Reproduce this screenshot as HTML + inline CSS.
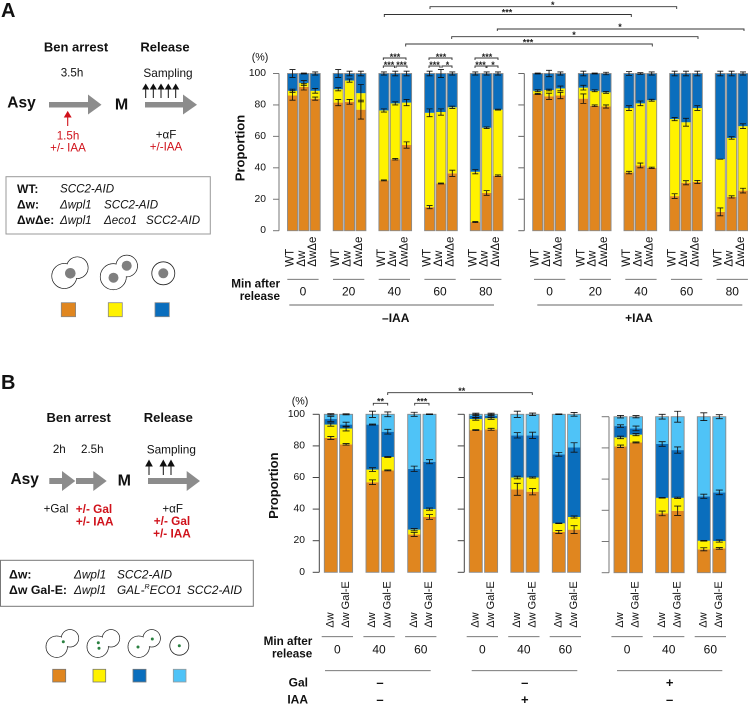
<!DOCTYPE html>
<html lang="en">
<head>
<meta charset="utf-8">
<title>Sister chromatid cohesion proportions</title>
<style>
html,body{margin:0;padding:0;background:#fff;}
svg{display:block;font-family:"Liberation Sans",Arial,sans-serif;}
text{dominant-baseline:central;fill:#111;}
.b{font-weight:bold;}
.i{font-style:italic;}
.m{text-anchor:middle;}
.e{text-anchor:end;}
.r{fill:#d0121b;}
.star{font-size:9px;text-anchor:middle;font-weight:bold;fill:#222;}
.brk{fill:none;stroke:#333;stroke-width:.9;}
.cell{fill:none;stroke:#222;stroke-width:.8;}
.wh{fill:#fff;}
.ln{stroke:#666;stroke-width:.9;}
</style>
</head>
<body>
<svg id="fig" width="748" height="704" viewBox="0 0 748 704" xmlns="http://www.w3.org/2000/svg">

<!-- PANEL A schematic -->
<g>
<text x="1" y="11" class="b" font-size="20">A</text>
<text x="76" y="47" class="b m" font-size="13">Ben arrest</text>
<text x="165" y="47" class="b m" font-size="13">Release</text>
<text x="72" y="73" class="m" font-size="11.6">3.5h</text>
<text x="168" y="73" class="m" font-size="11.8">Sampling</text>
<text x="21.5" y="103" class="b m" font-size="15.5">Asy</text>
<text x="121.5" y="105" class="b m" font-size="16">M</text>
<path d="M49 102H88V94.5L101.5 104.7L88 114.5V107.5H49Z" fill="#8c8c8c"/>
<path d="M145 102H183V94.5L197 104.7L183 114.5V107.5H145Z" fill="#8c8c8c"/>
<g fill="#111" stroke="#111" stroke-width="1">
<path d="M145.7 98V87"/><path d="M143 89L145.7 84.5L148.4 89Z"/>
<path d="M153.3 98V87"/><path d="M150.6 89L153.3 84.5L156 89Z"/>
<path d="M161 98V87"/><path d="M158.3 89L161 84.5L163.7 89Z"/>
<path d="M168.3 98V87"/><path d="M165.6 89L168.3 84.5L171 89Z"/>
<path d="M175.7 98V87"/><path d="M173 89L175.7 84.5L178.4 89Z"/>
</g>
<g fill="#d0121b" stroke="#d0121b" stroke-width="1.1">
<path d="M67.7 126V115"/><path d="M64.7 117L67.7 112L70.7 117Z"/>
</g>
<text x="68" y="136" class="m r" font-size="11.6">1.5h</text>
<text x="68" y="148" class="m r" font-size="11.6">+/- IAA</text>
<text x="166" y="135" class="m" font-size="11.6">+αF</text>
<text x="166" y="147" class="m r" font-size="11.6">+/-IAA</text>
<rect x="6" y="176.7" width="204.3" height="57.3" fill="#fff" stroke="#999" stroke-width="1"/>
<g font-size="11.6">
<text x="17" y="189" class="b" font-size="12">WT:</text>
<text x="60" y="189" class="i">SCC2-AID</text>
<text x="17" y="204.5" class="b" font-size="12">Δw:</text>
<text y="204.5" class="i"><tspan x="60">Δwpl1</tspan><tspan x="104">SCC2-AID</tspan></text>
<text x="17" y="220" class="b" font-size="12">ΔwΔe:</text>
<text y="220" class="i"><tspan x="60">Δwpl1</tspan><tspan x="104">Δeco1</tspan><tspan x="146">SCC2-AID</tspan></text>
</g>
<g>
<circle class="cell" cx="64.3" cy="276" r="12.5"/><circle class="cell" cx="77.3" cy="267.7" r="10.8"/>
<circle class="wh" cx="64.3" cy="276" r="12.1"/><circle class="wh" cx="77.3" cy="267.7" r="10.4"/>
<circle cx="70.3" cy="273.3" r="5.3" fill="#7f7f7f"/>
</g>
<g>
<circle class="cell" cx="113.3" cy="276.7" r="13"/><circle class="cell" cx="126.7" cy="266" r="10.8"/>
<circle class="wh" cx="113.3" cy="276.7" r="12.6"/><circle class="wh" cx="126.7" cy="266" r="10.4"/>
<circle cx="113.5" cy="277.7" r="5" fill="#7f7f7f"/><circle cx="126.7" cy="265.7" r="5" fill="#7f7f7f"/>
</g>
<g>
<circle class="cell" cx="163.3" cy="273.3" r="11.5"/>
<circle cx="163.3" cy="273.3" r="5" fill="#7f7f7f"/>
</g>
<rect x="61.3" y="302.7" width="14.3" height="14" fill="#e0861f" stroke="#888" stroke-width=".8"/>
<rect x="108.3" y="302.7" width="14" height="14" fill="#fff200" stroke="#888" stroke-width=".8"/>
<rect x="155" y="302.7" width="14.3" height="14" fill="#0a6ebd" stroke="#888" stroke-width=".8"/>
</g>

<!-- PANEL B schematic -->
<g>
<text x="1" y="383" class="b" font-size="20">B</text>
<text x="78.7" y="417.3" class="b m" font-size="13">Ben arrest</text>
<text x="168.3" y="417.3" class="b m" font-size="13">Release</text>
<text x="59.3" y="449.3" class="m" font-size="11.6">2h</text>
<text x="92.3" y="449.3" class="m" font-size="11.6">2.5h</text>
<text x="171.3" y="449.3" class="m" font-size="11.8">Sampling</text>
<text x="24.7" y="479.3" class="b m" font-size="15.5">Asy</text>
<text x="124.3" y="481" class="b m" font-size="16">M</text>
<path d="M49.3 478H62V471L75.3 481L62 491V484H49.3Z" fill="#8c8c8c"/>
<path d="M76 478H93.3V471L106.7 481L93.3 491V484H76Z" fill="#8c8c8c"/>
<path d="M148 478H186.7V471L200 481L186.7 491V484H148Z" fill="#8c8c8c"/>
<g fill="#111" stroke="#111" stroke-width="1">
<path d="M149 475V464"/><path d="M146 466L149 460.5L152 466Z"/>
<path d="M163.3 475V464"/><path d="M160.3 466L163.3 460.5L166.3 466Z"/>
<path d="M171 475V464"/><path d="M168 466L171 460.5L174 466Z"/>
</g>
<text x="56" y="509" class="m" font-size="11.6">+Gal</text>
<text x="94" y="509" class="m r b" font-size="11.8">+/- Gal</text>
<text x="94.7" y="521.3" class="m r b" font-size="11.8">+/- IAA</text>
<text x="172.7" y="509" class="m" font-size="11.6">+αF</text>
<text x="172" y="521" class="m r b" font-size="11.8">+/- Gal</text>
<text x="172" y="533.3" class="m r b" font-size="11.8">+/- IAA</text>
<rect x=".5" y="560.3" width="252.8" height="46" fill="#fff" stroke="#777" stroke-width="1"/>
<g font-size="11.8">
<text x="9" y="574.7" class="b" font-size="12.3">Δw:</text>
<text y="574.7" class="i"><tspan x="74">Δwpl1</tspan><tspan x="117">SCC2-AID</tspan></text>
<text x="9" y="590" class="b" font-size="12.3">Δw Gal-E:</text>
<text y="590" class="i"><tspan x="74">Δwpl1</tspan><tspan x="117">GAL-</tspan><tspan font-size="7" dy="-3">R</tspan><tspan dy="3">ECO1</tspan><tspan x="187">SCC2-AID</tspan></text>
</g>
<g>
<circle class="cell" cx="56.7" cy="646.7" r="10.7"/><circle class="cell" cx="70" cy="638.3" r="8.7"/>
<circle class="wh" cx="56.7" cy="646.7" r="10.3"/><circle class="wh" cx="70" cy="638.3" r="8.3"/>
<circle cx="63.3" cy="641.7" r="1.5" fill="#2a8040"/>
</g>
<g>
<circle class="cell" cx="97.7" cy="646.7" r="10.7"/><circle class="cell" cx="111" cy="638.3" r="8.7"/>
<circle class="wh" cx="97.7" cy="646.7" r="10.3"/><circle class="wh" cx="111" cy="638.3" r="8.3"/>
<circle cx="98.3" cy="642.7" r="1.5" fill="#2a8040"/><circle cx="99" cy="648.3" r="1.5" fill="#2a8040"/>
</g>
<g>
<circle class="cell" cx="138.7" cy="646.7" r="10.7"/><circle class="cell" cx="151.7" cy="638.3" r="8.7"/>
<circle class="wh" cx="138.7" cy="646.7" r="10.3"/><circle class="wh" cx="151.7" cy="638.3" r="8.3"/>
<circle cx="138" cy="647" r="1.5" fill="#2a8040"/><circle cx="152.3" cy="639" r="1.5" fill="#2a8040"/>
</g>
<g>
<circle class="cell" cx="179.3" cy="645.7" r="9.5"/>
<circle cx="179.3" cy="645.7" r="1.5" fill="#2a8040"/>
</g>
<rect x="52.7" y="669.3" width="13" height="12.7" fill="#e0861f" stroke="#777" stroke-width=".8"/>
<rect x="93" y="669.3" width="12.7" height="12.7" fill="#fff200" stroke="#777" stroke-width=".8"/>
<rect x="133" y="669.3" width="13" height="12.7" fill="#0a6ebd" stroke="#777" stroke-width=".8"/>
<rect x="173.3" y="669.3" width="12.7" height="12.7" fill="#4fc3f7" stroke="#999" stroke-width=".8"/>
</g>

<!-- significance brackets A -->
<g>
<path class="brk" d="M430 9V6.7H676.7V9"/>
<text class="star" x="552.7" y="5">*</text>
<path class="brk" d="M384.3 17V14.5H631.3V17"/>
<text class="star" x="507" y="12.5">***</text>
<path class="brk" d="M497.3 31V29H744V31"/>
<text class="star" x="620" y="27">*</text>
<path class="brk" d="M451.7 39V36.7H698V39"/>
<text class="star" x="574" y="35">*</text>
<path class="brk" d="M405.7 46.5V44H652.3V46.5"/>
<text class="star" x="528" y="42.5">***</text>

<path class="brk" d="M383.3 60V58H406V60"/>
<text class="star" x="395" y="57">***</text>
<path class="brk" d="M383.3 68V66H394.5V68"/>
<text class="star" x="389" y="65">***</text>
<path class="brk" d="M396 68V66H407V68"/>
<text class="star" x="401.5" y="65">***</text>

<path class="brk" d="M429 60V58H452V60"/>
<text class="star" x="441" y="57">***</text>
<path class="brk" d="M429 68V66H440V68"/>
<text class="star" x="434.5" y="65">***</text>
<path class="brk" d="M442 68V66H452V68"/>
<text class="star" x="447.5" y="65">*</text>

<path class="brk" d="M475 60V58H498V60"/>
<text class="star" x="487" y="57">***</text>
<path class="brk" d="M475 68V66H486V68"/>
<text class="star" x="480.5" y="65">***</text>
<path class="brk" d="M487 68V66H498V68"/>
<text class="star" x="493" y="65">*</text>
</g>

<!-- significance brackets B -->
<g>
<path class="brk" d="M387.7 395V392.7H532.3V395"/>
<text class="star" x="461.7" y="391">**</text>
<path class="brk" d="M373.3 405.5V403.3H387.7V405.5"/>
<text class="star" x="380.5" y="401.7">**</text>
<path class="brk" d="M414.7 405.5V403.3H429V405.5"/>
<text class="star" x="422" y="401.7">***</text>
</g>

<g id="charts"></g>
</svg>

<script>
// ---- chart A data: cumulative tops of each stacked segment (%), three strains × five time points
const strainsA = ["WT", "Δw", "ΔwΔe"];
const timesA = ["0", "20", "40", "60", "80"];
const yTicks = ["0", "20", "40", "60", "80", "100"];

const aMinusOrange = [86,91.5,84, 81.5,82,77, 32,45.5,54.5, 15,30,36.5, 5.5,24,35];
const aMinusYellow = [89,94,89, 90,95.5,87.5, 76.5,81,81.5, 75,75.5,78.5, 37.5,65.5,77];
const aMinusOrangeErr = [3,2,1, 2,1.5,6, .3,.5,2, 1,.3,2, .3,1.5,.5];
const aMinusYellowErr = [1,1.5,1.5, 1,1,5.5, 1,1,2, 2.5,2,.7, 1.3,.5,.3];
const aMinusTopErr = [2.5,.3,1, 2.5,1.5,1.5, 1,1.5,1.5, 1.5,2.5,1, 1,1,1];

const aPlusOrange = [87,85.5,86, 84,79.5,79, 37,41.5,40, 22,30.5,31, 12,21.5,25.5];
const aPlusYellow = [89,89.5,90.5, 91,89,88, 78,81,83, 71,69,78, 45.5,59,66.5];
const aPlusOrangeErr = [.3,2,2, 3,.5,1, .8,1.5,.4, 1.5,1.3,1, 2.5,.7,1.5];
const aPlusYellowErr = [.6,.5,1.5, 1.5,.6,.6, 1.5,1.5,.6, 1,2.5,1.5, 0,.8,1.5];
const aPlusTopErr = [.3,2,1, 1.5,.3,.8, 1.2,.5,1, 1.5,1.5,1.5, 1.5,1.5,1];

// ---- chart B data: two strains × three time points, three panels
const strainsB = ["Δw", "Δw Gal-E"];
const timesB = ["0", "40", "60"];
const galValues = ["–", "–", "+"];
const iaaValues = ["–", "+", "–"];

const b1Orange = [85,81, 57,64.5, 24,35];
const b1Yellow = [93.5,91, 65,73, 27,40];
const b1Blue = [97,93.5, 93.5,89, 65.5,70];
const b1OrangeErr = [1,.5, 1.5,.3, 1.3,1.5];
const b1YellowErr = [1,1.5, 1.2,.3, .7,.7];
const b1BlueErr = [1.7,1.5, .3,1.5, 1.7,1.3];
const b1TopErr = [.4,.3, 2,1.5, 1.3,.2];

const b2Orange = [90,90.5, 52.5,51, 25.5,27];
const b2Yellow = [97,97.5, 60,60, 31,35];
const b2Blue = [99,99, 86.7,86.7, 74.7,79];
const b2OrangeErr = [.3,.6, 3.8,2, 1,2.5];
const b2YellowErr = [.7,.7, .8,.4, .2,.7];
const b2BlueErr = [1,1, 1.7,2, 1.2,3];
const b2TopErr = [.7,.7, 2,.8, .2,1.2];

const b3Orange = [81,83.5, 38,39.7, 15,15.6];
const b3Yellow = [86.7,88.5, 48,48, 20.5,20.3];
const b3Blue = [94,92.5, 82.5,78.6, 49,51.5];
const b3OrangeErr = [.8,.3, 1.5,3, 1,.5];
const b3YellowErr = [.8,.7, .2,.4, .2,.7];
const b3BlueErr = [.8,1.5, 1.5,2, 1.3,1.5];
const b3TopErr = [.8,.7, 1.5,3.5, 2.5,1.3];

// ---- drawing
const NS = "http://www.w3.org/2000/svg";
const root = document.getElementById("charts");
const ORANGE = "#e0861f", YELLOW = "#fff200", BLUE = "#0a6ebd", SKY = "#4fc3f7";

function mk(tag, attrs, parent) {
  const el = document.createElementNS(NS, tag);
  for (const k in attrs) el.setAttribute(k, attrs[k]);
  parent.appendChild(el);
  return el;
}

function drawAxis(name, axisX, yScale, showLabels, labelRight, tickLeft, color) {
  const g = mk("g", {}, root);
  
  
  const line = mk("line", {x1: axisX, x2: axisX, y1: yScale(100), y2: yScale(0), stroke: color, "stroke-width": 1}, g);
  
  
  yTicks.forEach(function (t) {
    const y = yScale(+t);
    const tick = mk("line", {x1: tickLeft, x2: axisX, y1: y, y2: y, stroke: color, "stroke-width": 1}, g);
    
    
    if (showLabels) {
      const lab = mk("text", {x: labelRight, y: y, class: "e", "font-size": 10.3}, g);
      lab.textContent = t;
      
      
    }
  });
}

function drawPanel(name, xBar, yScale, barW, capHalf, segments, topErr, nGroups, nBars, barColorTop) {
  const g = mk("g", {}, root);
  
  
  const n = nGroups * nBars;
  const errLayer = [];
  for (let idx = 0; idx < n; idx++) {
    const gi = Math.floor(idx / nBars), bi = idx % nBars;
    const x = xBar(gi, bi);
    let prev = 0;
    const bg = mk("g", {}, g);
    
    
    segments.forEach(function (s) {
      const top = s.values[idx];
      const seg = mk("rect", {x: x, y: yScale(top), width: barW, height: yScale(prev) - yScale(top), fill: s.color}, bg);
      
      
      errLayer.push([x + barW / 2, top, s.err[idx]]);
      prev = top;
    });
    const last = mk("rect", {x: x, y: yScale(100), width: barW, height: yScale(prev) - yScale(100), fill: barColorTop}, bg);
    
    
    errLayer.push([x + barW / 2, 100, topErr[idx]]);
    const frame = mk("rect", {x: x, y: yScale(100), width: barW, height: yScale(0) - yScale(100), fill: "none", stroke: "#8a8a8a", "stroke-width": 0.9}, bg);
    
    
  }
  errLayer.forEach(function (e) {
    const y1 = yScale(e[1] + e[2]), y2 = yScale(e[1] - e[2]);
    const p = mk("path", {d: "M" + (e[0] - capHalf) + " " + y1 + "H" + (e[0] + capHalf) + "M" + e[0] + " " + y1 + "V" + y2 + "M" + (e[0] - capHalf) + " " + y2 + "H" + (e[0] + capHalf), stroke: "#111", "stroke-width": 0.85, fill: "none"}, g);
    
    
  });
}

function rotLabel(parent, txt, x, yBottom, size) {
  const t = mk("text", {x: x, y: yBottom, "font-size": size, transform: "rotate(-90 " + x + " " + yBottom + ")"}, parent);
  t.textContent = txt;
  
  
}

// Chart A
const yA = function (v) { return 230.7 - v * 1.572; };
const xAminus = function (g, b) { return 287.5 + g * 45.7 + b * 11.35; };
const xAplus = function (g, b) { return 532.7 + g * 45.65 + b * 11.35; };

drawAxis("y-axis-a-minus", 279, yA, true, 266, 273, "#777");
drawAxis("y-axis-a-plus", 524.3, yA, false, 0, 518.3, "#666");

drawPanel("bars-a-minus-iaa", xAminus, yA, 10, 3, [
  {name: "orange", color: ORANGE, values: aMinusOrange, err: aMinusOrangeErr},
  {name: "yellow", color: YELLOW, values: aMinusYellow, err: aMinusYellowErr}
], aMinusTopErr, 5, 3, BLUE);
drawPanel("bars-a-plus-iaa", xAplus, yA, 10, 3, [
  {name: "orange", color: ORANGE, values: aPlusOrange, err: aPlusOrangeErr},
  {name: "yellow", color: YELLOW, values: aPlusYellow, err: aPlusYellowErr}
], aPlusTopErr, 5, 3, BLUE);

const gLabelsA = mk("g", {}, root);


[xAminus, xAplus].forEach(function (xf, pi) {
  timesA.forEach(function (time, gi) {
    strainsA.forEach(function (s, bi) {
      rotLabel(gLabelsA, s, xf(gi, bi) + 3, 266.7, 11.5);
    });
    const x0 = xf(gi, 0) - (pi ? -1.3 : 0.2), x1 = x0 + 31.3;
    const ln = mk("line", {x1: x0, x2: x1, y1: 279.3, y2: 279.3, class: "ln"}, gLabelsA);
    
    
    const num = mk("text", {x: (x0 + x1) / 2, y: 291.7, class: "m", "font-size": 12}, gLabelsA);
    num.textContent = time;
    
    
  });
});

// Chart B
const yB = function (v) { return 572.3 - v * 1.58; };
const yB3 = function (v) { return 572.7 - v * 1.56; };
const xB1 = function (g, b) { return 324.3 + g * 41.7 + b * 15.3; };
const xB2 = function (g, b) { return 469.3 + g * 41.5 + b * 15.3; };
const xB3 = function (g, b) { return 614 + g * 41.65 + b * 15.5; };

drawAxis("y-axis-b-1", 319.3, yB, true, 305, 312.7, "#444");
drawAxis("y-axis-b-2", 464.3, yB, false, 0, 457.7, "#444");
drawAxis("y-axis-b-3", 609, yB3, false, 0, 601.7, "#777");

drawPanel("bars-b-panel-1", xB1, yB, 13, 3.5, [
  {name: "orange", color: ORANGE, values: b1Orange, err: b1OrangeErr},
  {name: "yellow", color: YELLOW, values: b1Yellow, err: b1YellowErr},
  {name: "blue", color: BLUE, values: b1Blue, err: b1BlueErr}
], b1TopErr, 3, 2, SKY);
drawPanel("bars-b-panel-2", xB2, yB, 13, 3.5, [
  {name: "orange", color: ORANGE, values: b2Orange, err: b2OrangeErr},
  {name: "yellow", color: YELLOW, values: b2Yellow, err: b2YellowErr},
  {name: "blue", color: BLUE, values: b2Blue, err: b2BlueErr}
], b2TopErr, 3, 2, SKY);
drawPanel("bars-b-panel-3", xB3, yB3, 13, 3.5, [
  {name: "orange", color: ORANGE, values: b3Orange, err: b3OrangeErr},
  {name: "yellow", color: YELLOW, values: b3Yellow, err: b3YellowErr},
  {name: "blue", color: BLUE, values: b3Blue, err: b3BlueErr}
], b3TopErr, 3, 2, SKY);

const gLabelsB = mk("g", {}, root);


[xB1, xB2, xB3].forEach(function (xf, pi) {
  timesB.forEach(function (time, gi) {
    strainsB.forEach(function (s, bi) {
      rotLabel(gLabelsB, s, xf(gi, bi) + 6.2, 627.7, 11);
    });
    const x0 = xf(gi, 0) - 2.6, x1 = x0 + 31.3;
    const ln = mk("line", {x1: x0, x2: x1, y1: 636.7, y2: 636.7, class: "ln"}, gLabelsB);
    
    
    const num = mk("text", {x: (x0 + x1) / 2, y: 649.3, class: "m", "font-size": 12}, gLabelsB);
    num.textContent = time;
    
    
  });
  const cx = xf(1, 0) + 14;
  const gal = mk("text", {x: cx, y: 682.3, class: "b m", "font-size": 13}, gLabelsB);
  gal.textContent = galValues[pi];
  
  
  const iaa = mk("text", {x: cx, y: 699.3, class: "b m", "font-size": 13}, gLabelsB);
  iaa.textContent = iaaValues[pi];
  
  
});
</script>

<svg style="position:absolute;left:0;top:0;pointer-events:none" width="748" height="704" viewBox="0 0 748 704" xmlns="http://www.w3.org/2000/svg">
<text x="260" y="57.7" class="m" font-size="10.7">(%)</text>
<text x="240" y="148" class="b m" font-size="13" transform="rotate(-90 240 148)">Proportion</text>
<text x="300" y="401.7" class="m" font-size="10.7">(%)</text>
<text x="273.3" y="485.7" class="b m" font-size="13" transform="rotate(-90 273.3 485.7)">Proportion</text>

<text x="280" y="284" class="b e" font-size="11.7">Min after</text>
<text x="280" y="296.3" class="b e" font-size="11.7">release</text>
<line class="ln" x1="289.3" x2="494" y1="305" y2="305"/>
<line class="ln" x1="537.3" x2="742.3" y1="305" y2="305"/>
<text x="395.7" y="318" class="b m" font-size="12">–IAA</text>
<text x="639" y="318" class="b m" font-size="12">+IAA</text>

<text x="312.3" y="641.7" class="b e" font-size="11.7">Min after</text>
<text x="312.3" y="654" class="b e" font-size="11.7">release</text>
<line class="ln" x1="325" x2="430.7" y1="670.7" y2="670.7"/>
<line class="ln" x1="471.7" x2="577.3" y1="670.7" y2="670.7"/>
<line class="ln" x1="617" x2="722.3" y1="670.7" y2="670.7"/>
<text x="308" y="682.3" class="b e" font-size="12">Gal</text>
<text x="308" y="699.3" class="b e" font-size="12">IAA</text>
</svg>
</body>
</html>
